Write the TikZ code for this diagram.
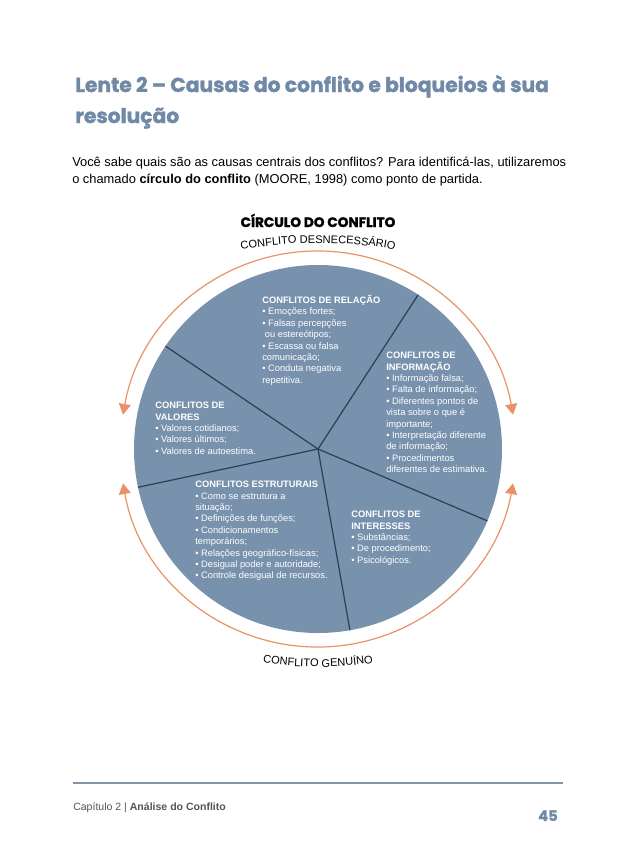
\documentclass[tikz,border=0pt]{standalone}
\usepackage{fontspec}
\setmainfont{Liberation Sans}
\newfontfamily\titlefont[FakeBold=1.6]{Poppins}
\usetikzlibrary{arrows.meta, positioning, decorations.text}

\definecolor{slate}{RGB}{112,137,166}
\definecolor{piefill}{RGB}{120,145,172}
\definecolor{spoke}{RGB}{45,62,85}
\definecolor{arcorange}{RGB}{233,146,104}
\definecolor{footgray}{RGB}{85,85,85}
\definecolor{footline}{RGB}{130,148,170}

\begin{document}
\begin{tikzpicture}[
    x=0.75pt, y=0.75pt,
    seg/.style={
        anchor=north west,
        inner sep=0pt,
        align=left,
        text=white,
        font=\fontsize{7}{8.55}\selectfont
    },
    spokeline/.style={draw=spoke, line width=0.9pt},
    cyclearrow/.style={
        draw=arcorange,
        line width=0.9pt,
        {Triangle[length=8pt,width=9pt]}-{Triangle[length=8pt,width=9pt]}
    },
    arclabel/.style={
        decorate,
        decoration={text along path, text align=center, text={#1}}
    }
]
\useasboundingbox[fill=white] (0,0) rectangle (638,-851);

% --- Title and introduction
\node[anchor=base west, inner sep=0pt, text=slate, font=\titlefont\bfseries\fontsize{15.2}{20}\selectfont] (title1) at (75,-92) {Lente 2 – Causas do conflito e bloqueios à sua};
\node[anchor=base west, inner sep=0pt, text=slate, font=\titlefont\bfseries\fontsize{15.2}{20}\selectfont] (title2) at (75,-123) {resolução};

\node[anchor=base west, inner sep=0pt, font=\fontsize{9.65}{12}\selectfont] (intro1) at (72,-166) {Você sabe quais são as causas centrais dos conflitos? Para identificá-las, utilizaremos};
\node[anchor=base west, inner sep=0pt, font=\fontsize{9.65}{12}\selectfont] (intro2) at (72,-183) {o chamado \textbf{círculo do conflito} (MOORE, 1998) como ponto de partida.};

% --- Circle of conflict
\node[anchor=base, inner sep=0pt, font=\titlefont\bfseries\fontsize{10.2}{11}\selectfont] (ctitle) at (318,-227) {CÍRCULO DO CONFLITO};

\coordinate (c) at (318,-449);
\fill[piefill] (c) circle[radius=138pt];

\foreach \ang [count=\i] in {146,57,-23,-80,192}
    \path (c) ++(\ang:184) coordinate (s\i);
\foreach \i in {1,...,5}
    \draw[spokeline] (c) -- (s\i);

% --- Orange cycle arrows
\path (c) ++(170:198) coordinate (ta);
\path (c) ++(190:198) coordinate (ba);
\draw[cyclearrow] (ta) arc[start angle=170, end angle=10, radius=148.5pt];
\draw[cyclearrow] (ba) arc[start angle=190, end angle=350, radius=148.5pt];

% --- Curved labels (flatter than the circle)
\coordinate (tc) at (318,-693);
\coordinate (bc) at (318,-303);
\path[arclabel={|\fontsize{8.3}{9}\selectfont|CONFLITO DESNECESSÁRIO}] (tc) ++(105:450) arc[start angle=105, end angle=75, radius=337.5pt];
\path[arclabel={|\fontsize{8.3}{9}\selectfont|CONFLITO GENUÍNO}] (bc) ++(255:364) arc[start angle=255, end angle=285, radius=273pt];

% --- Segment texts
\node[seg] (relacao) at (262,-295) {\textbf{CONFLITOS DE RELAÇÃO}\\
• Emoções fortes;\\
• Falsas percepções\\
\ ou estereótipos;\\
• Escassa ou falsa\\
comunicação;\\
• Conduta negativa\\
repetitiva.};

\node[seg] (informacao) at (386,-352) {\textbf{CONFLITOS DE}\\
\textbf{INFORMAÇÃO}\\
• Informação falsa;\\
• Falta de informação;\\
• Diferentes pontos de\\
vista sobre o que é\\
importante;\\
• Interpretação diferente\\
de informação;\\
• Procedimentos\\
diferentes de estimativa.};

\node[seg] (valores) at (155,-402) {\textbf{CONFLITOS DE}\\
\textbf{VALORES}\\
• Valores cotidianos;\\
• Valores últimos;\\
• Valores de autoestima.};

\node[seg] (estruturais) at (195,-481) {\textbf{CONFLITOS ESTRUTURAIS}\\
• Como se estrutura a\\
situação;\\
• Definições de funções;\\
• Condicionamentos\\
temporários;\\
• Relações geográfico-físicas;\\
• Desigual poder e autoridade;\\
• Controle desigual de recursos.};

\node[seg] (interesses) at (351,-511) {\textbf{CONFLITOS DE}\\
\textbf{INTERESSES}\\
• Substâncias;\\
• De procedimento;\\
• Psicológicos.};

% --- Footer
\coordinate (fl) at (73,-783);
\coordinate (fr) at (563,-783);
\draw[footline, line width=0.8pt] (fl) -- (fr);
\node[anchor=base west, inner sep=0pt, text=footgray, font=\fontsize{7.9}{9}\selectfont] (chapter) at (73,-810) {Capítulo 2 | \textbf{Análise do Conflito}};
\node[anchor=base east, inner sep=0pt, text=slate, font=\titlefont\bfseries\fontsize{11}{12}\selectfont] (page) at (558,-821) {45};

\end{tikzpicture}
\end{document}
